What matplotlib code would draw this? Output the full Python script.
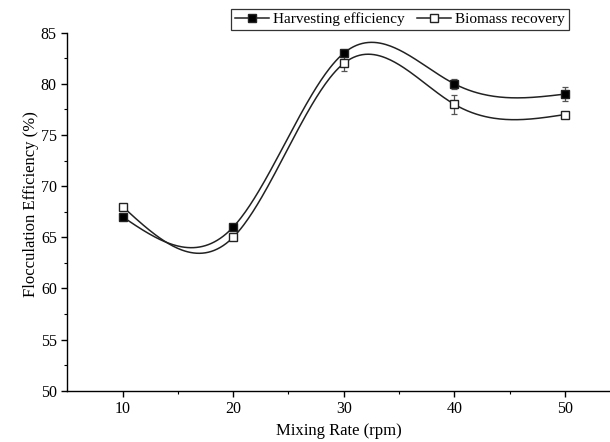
import numpy as np
import matplotlib.pyplot as plt

plt.rcParams['font.family'] = ['Liberation Serif', 'DejaVu Serif']

# data
mixing_rate = [10, 20, 30, 40, 50]
harvesting = [67, 66, 83, 80, 79]
harvesting_err = [0, 0, 0.3, 0.5, 0.7]
biomass = [68, 65, 82, 78, 77]
biomass_err = [0, 0, 0.7, 0.9, 0]


def natural_spline(x, y, n=300):
    # plain natural cubic spline, no scipy needed
    x = np.asarray(x, float)
    y = np.asarray(y, float)
    k = len(x)
    h = np.diff(x)
    A = np.zeros((k, k))
    r = np.zeros(k)
    A[0, 0] = A[-1, -1] = 1.0
    for i in range(1, k - 1):
        A[i, i - 1] = h[i - 1]
        A[i, i] = 2 * (h[i - 1] + h[i])
        A[i, i + 1] = h[i]
        r[i] = 3 * ((y[i + 1] - y[i]) / h[i] - (y[i] - y[i - 1]) / h[i - 1])
    c = np.linalg.solve(A, r)
    xs = np.linspace(x[0], x[-1], n)
    idx = np.clip(np.searchsorted(x, xs) - 1, 0, k - 2)
    dx = xs - x[idx]
    hi = h[idx]
    b = (y[idx + 1] - y[idx]) / hi - hi * (2 * c[idx] + c[idx + 1]) / 3
    d = (c[idx + 1] - c[idx]) / (3 * hi)
    ys = y[idx] + b * dx + c[idx] * dx ** 2 + d * dx ** 3
    return xs, ys


fig = plt.figure(figsize=(6.1, 4.42), dpi=100)
ax = fig.add_axes([0.1103, 0.1161, 0.8897, 0.8099])

for vals, errs, face, label in [(harvesting, harvesting_err, 'black', 'Harvesting efficiency'),
                                (biomass, biomass_err, 'white', 'Biomass recovery')]:
    xs, ys = natural_spline(mixing_rate, vals)
    ax.plot(xs, ys, color='#222222', lw=1.1, zorder=2)
    ax.errorbar(mixing_rate, vals, yerr=errs, fmt='none', ecolor='#555555',
                elinewidth=0.9, capsize=2.5, capthick=0.9, zorder=3)
    ax.plot(mixing_rate, vals, ls='none', marker='s', ms=5.5, mfc=face,
            mec='#222222', mew=1.0, zorder=4)
    # legend handle: line with marker
    ax.plot([], [], color='#222222', lw=1.1, marker='s', ms=5.5, mfc=face,
            mec='#222222', mew=1.0, label=label)

ax.set_xlim(5, 54.07)
ax.set_ylim(50, 85)
ax.set_xticks([10, 20, 30, 40, 50])
ax.set_xticks([15, 25, 35, 45], minor=True)
ax.set_yticks(np.arange(50, 86, 5))
ax.set_yticks(np.arange(52.5, 85, 5), minor=True)

ax.spines['top'].set_visible(False)
ax.spines['right'].set_visible(False)
ax.spines['left'].set_linewidth(1.0)
ax.spines['bottom'].set_linewidth(1.0)
ax.tick_params(which='major', direction='out', length=4, width=1.0, labelsize=11.5)
ax.tick_params(which='minor', direction='out', length=2.5, width=0.8)

ax.set_xlabel('Mixing Rate (rpm)', fontsize=12)
ax.set_ylabel('Flocculation Efficiency (%)', fontsize=12)
ax.yaxis.set_label_coords(-0.052, 0.52)

leg = ax.legend(loc='lower center', bbox_to_anchor=(0.613, 1.0075), ncol=2,
                frameon=True, fancybox=False, edgecolor='black', fontsize=11,
                handlelength=2.2, handletextpad=0.3, columnspacing=0.8,
                borderpad=0.25, borderaxespad=0)
leg.get_frame().set_linewidth(0.9)

fig.savefig('out.png', dpi=100)
